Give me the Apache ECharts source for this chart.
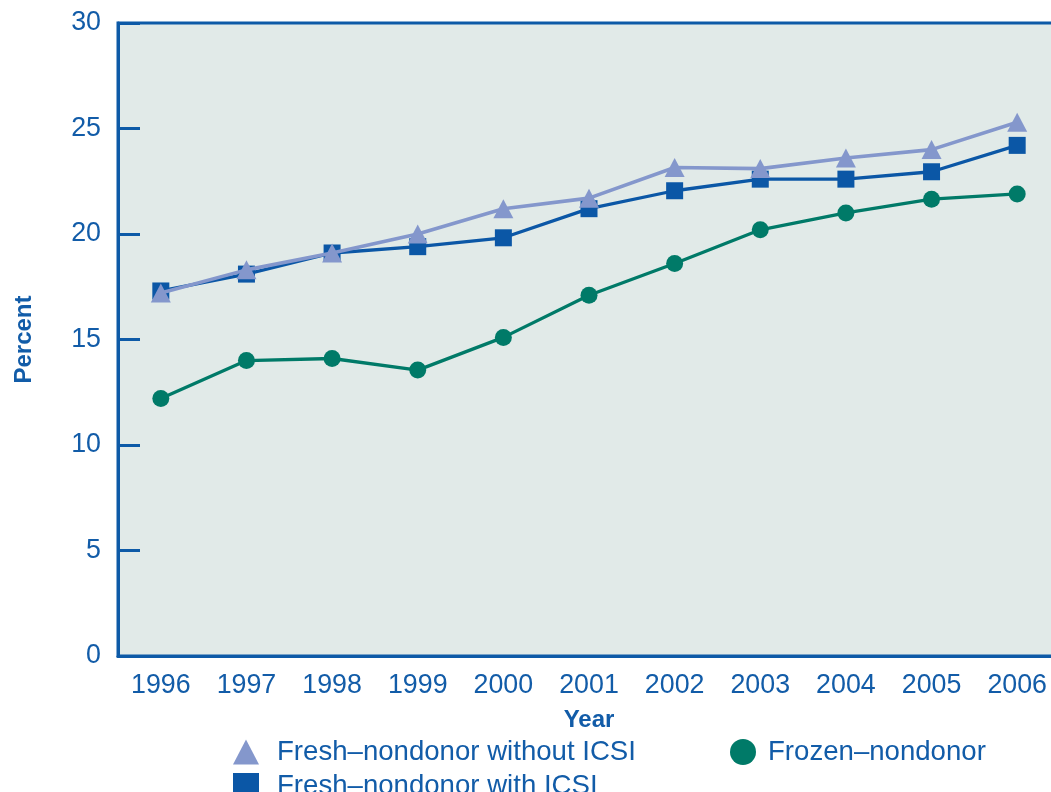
<!DOCTYPE html>
<html>
<head>
<meta charset="utf-8">
<script src="https://cdn.jsdelivr.net/npm/echarts@6/dist/echarts.min.js"></script>
<style>
  html, body { margin: 0; padding: 0; background: #ffffff; }
  #chart { width: 1051px; height: 792px; }
</style>
</head>
<body>
<div id="chart"></div>
<script>
// Success rates by embryo type, 1996–2006
const years = ['1996', '1997', '1998', '1999', '2000', '2001', '2002', '2003', '2004', '2005', '2006'];
const freshWithoutICSI = [17.2, 18.3, 19.1, 20.0, 21.2, 21.7, 23.15, 23.1, 23.6, 24.0, 25.3];
const freshWithICSI = [17.3, 18.1, 19.1, 19.4, 19.82, 21.2, 22.05, 22.6, 22.6, 22.95, 24.2];
const frozen = [12.2, 14.0, 14.1, 13.55, 15.1, 17.1, 18.6, 20.2, 21.0, 21.65, 21.9];
const yTicks = [0, 5, 10, 15, 20, 25, 30];

const blueText = '#125ca8';
const axisBlue = '#0d5aa7';
const font = 'Liberation Sans, Arial, Helvetica, sans-serif';

const chart = echarts.init(document.getElementById('chart'), null, { renderer: 'canvas' });

const legendText = { color: blueText, fontSize: 27.6, fontFamily: font };

chart.setOption({
  animation: false,
  textStyle: { fontFamily: font },
  grid: {
    left: 118, top: 23, width: 942, bottom: 136,
    outerBoundsMode: 'none',
    containLabel: false,
    show: true,
    backgroundColor: '#e1eae8',
    borderColor: axisBlue,
    borderWidth: 3
  },
  legend: [
    {
      left: 228, top: 733,
      itemWidth: 26, itemHeight: 25,
      textStyle: Object.assign({ padding: [0, 0, 0, 13] }, legendText),
      data: [{ name: 'Fresh–nondonor without ICSI', icon: 'triangle' }]
    },
    {
      left: 228, top: 767,
      itemWidth: 26, itemHeight: 26,
      textStyle: Object.assign({ padding: [0, 0, 0, 13] }, legendText),
      data: [{ name: 'Fresh–nondonor with ICSI', icon: 'rect' }]
    },
    {
      left: 725, top: 733,
      itemWidth: 26, itemHeight: 26,
      textStyle: Object.assign({ padding: [0, 0, 0, 7] }, legendText),
      data: [{ name: 'Frozen–nondonor', icon: 'circle' }]
    }
  ],
  xAxis: {
    type: 'category',
    data: years,
    boundaryGap: true,
    name: 'Year',
    nameLocation: 'middle',
    nameGap: 52,
    nameTextStyle: { color: blueText, fontSize: 24, fontWeight: 'bold', fontFamily: font },
    axisLine: { lineStyle: { color: axisBlue, width: 3 } },
    axisTick: { inside: true, alignWithLabel: true, length: 15, lineStyle: { color: axisBlue, width: 3 } },
    axisLabel: { color: blueText, fontSize: 26.8, margin: 16, fontFamily: font },
    splitLine: { show: false }
  },
  yAxis: {
    type: 'value',
    min: 0, max: 30, interval: 5,
    name: 'Percent',
    nameLocation: 'middle',
    nameRotate: 90,
    nameGap: 82,
    nameTextStyle: { color: blueText, fontSize: 24, fontWeight: 'bold', fontFamily: font },
    axisLine: { show: true, lineStyle: { color: axisBlue, width: 3 } },
    axisTick: { show: true, inside: true, length: 22, lineStyle: { color: axisBlue, width: 3 } },
    axisLabel: {
      color: blueText, fontSize: 26.8, margin: 17, fontFamily: font,
      formatter: v => (yTicks.includes(v) ? String(v) : '')
    },
    splitLine: { show: false }
  },
  series: [
    {
      name: 'Frozen–nondonor',
      type: 'line',
      data: frozen,
      symbol: 'circle',
      symbolSize: 17,
      itemStyle: { color: '#007a68' },
      lineStyle: { color: '#007a68', width: 3.3 },
      z: 2
    },
    {
      name: 'Fresh–nondonor with ICSI',
      type: 'line',
      data: freshWithICSI,
      symbol: 'rect',
      symbolSize: 17,
      itemStyle: { color: '#0b57a6' },
      lineStyle: { color: '#0b57a6', width: 3.3 },
      z: 3
    },
    {
      name: 'Fresh–nondonor without ICSI',
      type: 'line',
      data: freshWithoutICSI,
      symbol: 'triangle',
      symbolSize: [20, 19],
      itemStyle: { color: '#8497cc' },
      lineStyle: { color: '#8497cc', width: 3.6 },
      z: 4
    }
  ]
});
</script>
</body>
</html>
